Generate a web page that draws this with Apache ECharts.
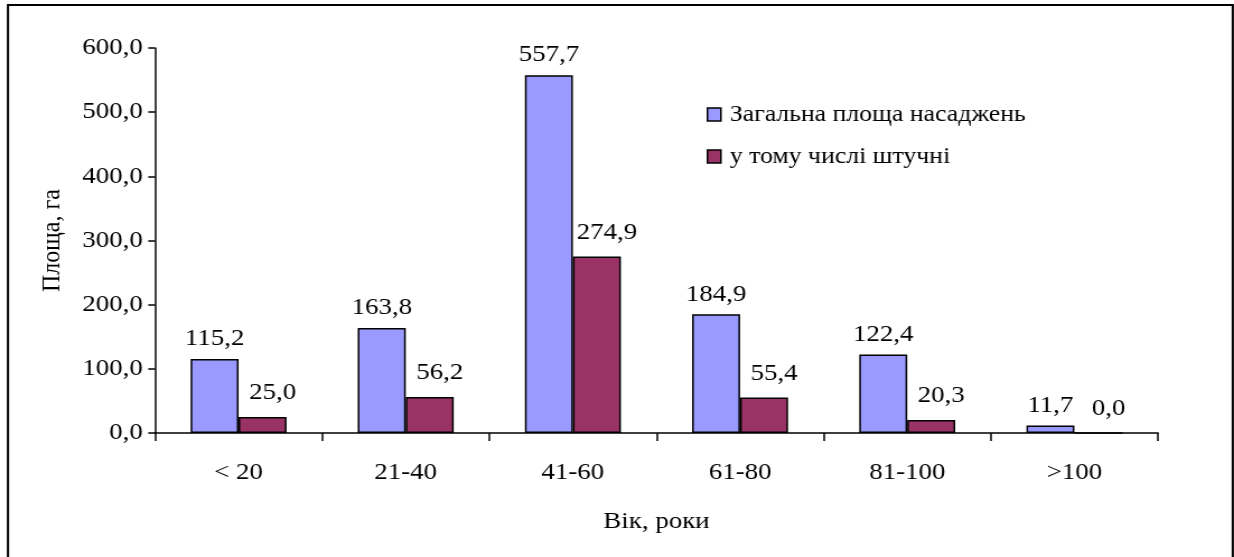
<!DOCTYPE html>
<html>
<head>
<meta charset="utf-8">
<script src="https://cdn.jsdelivr.net/npm/echarts@6/dist/echarts.min.js"></script>
<style>
  html, body { margin: 0; padding: 0; background: #fff; overflow: hidden; }
  /* the figure is laid out narrower and widened, like a pasted document image */
  #chart { width: 1102px; height: 557px; transform: scaleX(1.1198); transform-origin: 0 0; }
</style>
</head>
<body>
<div id="chart"></div>
<script>
// Age classes of stands and their areas, ha
const ageClasses = ['< 20', '21-40', '41-60', '61-80', '81-100', '>100'];
const totalArea = [115.2, 163.8, 557.7, 184.9, 122.4, 11.7];
const plantedArea = [25.0, 56.2, 274.9, 55.4, 20.3, 0.0];
const seriesNames = ['Загальна площа насаджень', 'у тому числі штучні'];
const yTicks = { min: 0, max: 600, interval: 100 };

const FONT = '"Liberation Serif", "Times New Roman", serif';
const FS = 24;
const fmt = v => v.toFixed(1).replace('.', ',');

const chart = echarts.init(document.getElementById('chart'), null, { renderer: 'canvas' });

chart.setOption({
  animation: false,
  backgroundColor: '#ffffff',
  textStyle: { fontFamily: FONT, color: '#000' },
  graphic: [{
    type: 'rect',
    shape: { x: 7.1, y: 5, width: 1093.8, height: 620 },
    style: { fill: 'none', stroke: '#000', lineWidth: 2 },
    silent: true
  }],
  grid: { left: 138.4, right: 67.9, top: 48, bottom: 124, containLabel: false },
  legend: {
    orient: 'vertical',
    left: 626,
    top: 98,
    itemWidth: 12,
    itemHeight: 13,
    itemGap: 19,
    icon: 'rect',
    itemStyle: { borderColor: '#000', borderWidth: 1.5 },
    textStyle: { fontFamily: FONT, fontSize: 23, color: '#000', padding: [0, 0, 0, 3] },
    data: seriesNames
  },
  xAxis: {
    type: 'category',
    data: ageClasses,
    name: 'Вік, роки',
    nameLocation: 'middle',
    nameGap: 77,
    nameTextStyle: { fontFamily: FONT, fontSize: FS, color: '#000' },
    axisLine: { lineStyle: { color: '#000', width: 1.5 } },
    axisTick: { show: true, length: 8, lineStyle: { color: '#000', width: 1.5 } },
    axisLabel: { fontFamily: FONT, fontSize: FS, color: '#000', margin: 28 },
    splitLine: { show: false }
  },
  yAxis: {
    type: 'value',
    min: yTicks.min,
    max: yTicks.max,
    interval: yTicks.interval,
    name: 'Площа, га',
    nameLocation: 'middle',
    nameGap: 80,
    nameRotate: 90,
    nameTextStyle: { fontFamily: FONT, fontSize: FS, color: '#000' },
    axisLine: { show: true, lineStyle: { color: '#000', width: 1.5 } },
    axisTick: { show: true, inside: false, length: 6, lineStyle: { color: '#000', width: 1.5 } },
    axisLabel: { fontFamily: FONT, fontSize: FS, color: '#000', margin: 11, formatter: v => fmt(v) },
    splitLine: { show: false }
  },
  series: [
    {
      name: seriesNames[0],
      type: 'bar',
      data: totalArea,
      barGap: '0%',
      barCategoryGap: '42.6%',
      itemStyle: { color: '#9999ff', borderColor: '#000', borderWidth: 1.5 },
      label: {
        show: true, position: 'top', distance: 8,
        fontFamily: FONT, fontSize: FS, color: '#000',
        formatter: p => fmt(p.value)
      }
    },
    {
      name: seriesNames[1],
      type: 'bar',
      data: plantedArea,
      itemStyle: { color: '#993366', borderColor: '#000', borderWidth: 1.5 },
      label: {
        show: true, position: 'top', distance: 12, offset: [9, 0],
        fontFamily: FONT, fontSize: FS, color: '#000',
        formatter: p => fmt(p.value)
      }
    }
  ]
});
</script>
</body>
</html>
